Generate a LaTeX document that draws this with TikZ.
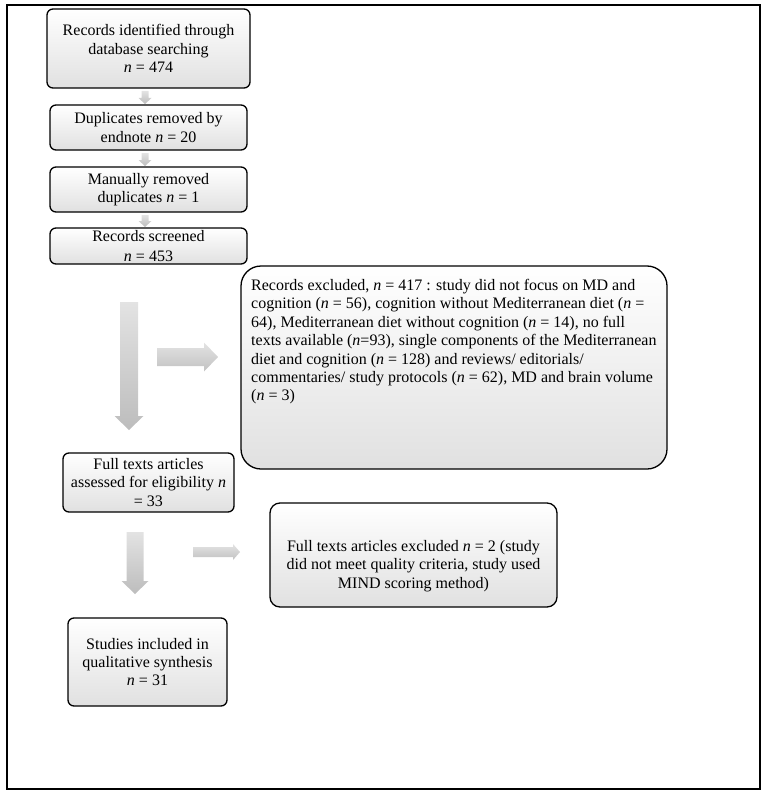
\documentclass[tikz,border=0pt]{standalone}
\usepackage{fontspec}
\setmainfont{Liberation Serif}
\newcommand{\nn}{\textit{n}}
\newcommand{\fatdown}[6]{%
  \shade[top color=black!11, bottom color=black!26]
    ({#1-#5},#2) -- ({#1+#5},#2) -- ({#1+#5},#3) -- ({#1+#6},#3) -- (#1,#4)
    -- ({#1-#6},#3) -- ({#1-#5},#3) -- cycle;}
\newcommand{\fatright}[6]{%
  \shade[top color=black!11, bottom color=black!24]
    (#1,{#4-#5}) -- (#2,{#4-#5}) -- (#2,{#4-#6}) -- (#3,#4) -- (#2,{#4+#6})
    -- (#2,{#4+#5}) -- (#1,{#4+#5}) -- cycle;}
\tikzset{
  box/.style={draw, line width=1.3pt, rounded corners=6pt, top color=white,
    bottom color=black!12, align=center, inner sep=0pt,
    font=\fontsize{16}{18.4}\selectfont},
  plain/.style={inner sep=0pt, font=\fontsize{16}{18.4}\selectfont},
}
\begin{document}
\begin{tikzpicture}[x=1pt,y=-1pt]
\useasboundingbox (0,0) rectangle (769,797);
\node[draw, line width=1.4pt, minimum width=753pt, minimum height=784pt, inner sep=0pt] (frame) at (383.5,397) {};

\node[box, minimum width=203pt, minimum height=79pt] (b1) at (148.5,48.5)
  {Records identified through\\database searching\\\nn{} = 474};
\node[box, minimum width=197pt, minimum height=45pt] (b2) at (148.5,127.5)
  {Duplicates removed by\\endnote \nn{} = 20};
\node[box, minimum width=197pt, minimum height=45pt] (b3) at (148.5,189.5)
  {Manually removed\\duplicates \nn{} = 1};
\node[box, minimum width=197pt, minimum height=36pt] (b4) at (148.5,246)
  {Records screened\\[2pt]\nn{} = 453};

\fatdown{145}{91}{98}{104}{3.5}{6.5}
\fatdown{145}{153}{160}{166}{3.5}{6.5}
\fatdown{145}{215}{221}{227}{3.5}{6.5}

\node[box, rounded corners=20pt, minimum width=426pt, minimum height=203pt] (ex1) at (454,367.5) {};
\node[plain, anchor=north west, align=left] (ex1t) at (251,279)
  {Records excluded, \nn{} = 417 : study did not focus on MD and\\
   cognition (\nn{} = 56), cognition without Mediterranean diet (\nn{} =\\
   64), Mediterranean diet without cognition (\nn{} = 14), no full\\
   texts available (\nn{}=93), single components of the Mediterranean\\
   diet and cognition (\nn{} = 128) and reviews/ editorials/\\
   commentaries/ study protocols (\nn{} = 62), MD and brain volume\\
   (\nn{} = 3)};

\fatdown{129}{302}{416}{430}{9}{14.5}
\fatright{157}{204}{218}{357}{9}{14.5}

\node[box, minimum width=171pt, minimum height=59pt] (b5) at (148.5,482.5)
  {Full texts articles\\assessed for eligibility \nn\\= 33};

\fatdown{135}{532}{581}{594}{8.5}{13.5}
\fatright{193}{233}{240}{552}{5}{8}

\node[box, rounded corners=10pt, minimum width=287pt, minimum height=104pt] (ex2) at (413.5,555) {};
\node[plain, align=center] (ex2t) at (413.5,566)
  {Full texts articles excluded \nn{} = 2 (study\\did not meet quality criteria, study used\\MIND scoring method)};

\node[box, minimum width=159pt, minimum height=88pt] (b6) at (147.5,662)
  {Studies included in\\qualitative synthesis\\\nn{} = 31};
\end{tikzpicture}
\end{document}
